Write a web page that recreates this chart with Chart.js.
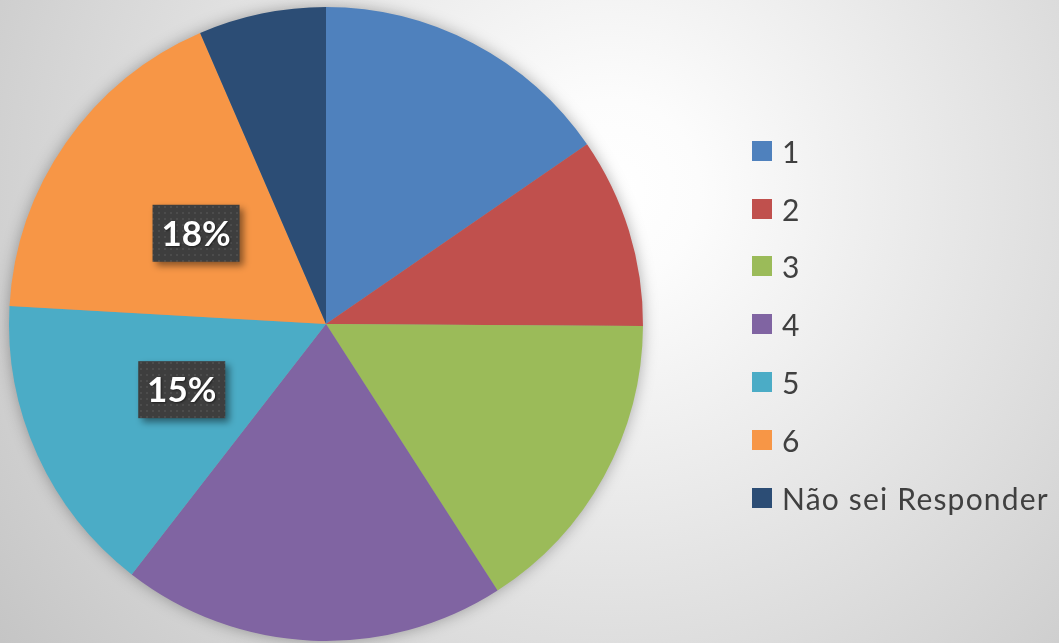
<!DOCTYPE html>
<html>
<head>
<meta charset="utf-8">
<script src="https://cdn.jsdelivr.net/npm/chart.js@4/dist/chart.umd.min.js"></script>
<style>
  html, body { margin: 0; padding: 0; }
  body {
    width: 1059px; height: 643px; overflow: hidden; position: relative;
    background: radial-gradient(circle at 610px 190px, #ffffff 0px, #fcfcfc 90px, #c4c4c4 770px);
  }
  #pie { position: absolute; left: 0; top: 0; }
  #legend { position: absolute; left: 752px; top: 122px; font-family: Lato, "Open Sans", sans-serif; color: #404040; }
  .item { display: flex; align-items: center; height: 57.8px; font-size: 30px; letter-spacing: 1.2px; white-space: nowrap; }
  .sw { width: 20px; height: 20px; margin-right: 10px; flex: none; }
</style>
</head>
<body>
<canvas id="pie" width="1059" height="643"></canvas>
<div id="legend"></div>
<script>
// categories and values (share of answers, %)
const labels = ['1', '2', '3', '4', '5', '6', 'Não sei Responder'];
const values = [15.4, 9.7, 15.8, 19.6, 15.4, 17.6, 6.5];
const colors = ['#4F81BD', '#C0504D', '#9BBB59', '#8064A2', '#4BACC6', '#F79646', '#2C4D75'];
// slices that carry a percent label
const labelled = [4, 5];

const total = values.reduce((a, b) => a + b, 0);

// legend
const legend = document.getElementById('legend');
labels.forEach((l, i) => {
  const row = document.createElement('div');
  row.className = 'item';
  row.innerHTML = `<span class="sw" style="background:${colors[i]}"></span><span>${l}</span>`;
  legend.appendChild(row);
});

// dotted dark fill for label boxes
function dotPattern(ctx) {
  const c = document.createElement('canvas');
  c.width = 6; c.height = 6;
  const p = c.getContext('2d');
  p.fillStyle = '#3e3e3e'; p.fillRect(0, 0, 6, 6);
  p.fillStyle = '#4c4c4c'; p.fillRect(2, 2, 2, 2);
  return ctx.createPattern(c, 'repeat');
}

const pieShadow = {
  id: 'pieShadow',
  beforeDatasetsDraw(chart) {
    const arc = chart.getDatasetMeta(0).data[0];
    if (!arc) return;
    const ctx = chart.ctx;
    ctx.save();
    ctx.shadowColor = 'rgba(0,0,0,0.35)';
    ctx.shadowBlur = 16;
    ctx.fillStyle = '#999';
    ctx.beginPath();
    ctx.arc(arc.x, arc.y, arc.outerRadius - 1, 0, Math.PI * 2);
    ctx.fill();
    ctx.restore();
  }
};

const pctLabels = {
  id: 'pctLabels',
  afterDatasetsDraw(chart) {
    const ctx = chart.ctx;
    const meta = chart.getDatasetMeta(0);
    const pat = dotPattern(ctx);
    labelled.forEach(i => {
      const pt = meta.data[i].getCenterPoint();
      const w = 87, h = 57;
      const x = pt.x - w / 2, y = pt.y - h / 2;
      ctx.save();
      ctx.shadowColor = 'rgba(0,0,0,0.45)';
      ctx.shadowBlur = 7;
      ctx.shadowOffsetX = 4;
      ctx.shadowOffsetY = 4;
      ctx.fillStyle = pat;
      ctx.fillRect(x, y, w, h);
      ctx.restore();
      ctx.save();
      ctx.font = 'bold 35px Lato, "Open Sans", sans-serif';
      ctx.textAlign = 'center';
      ctx.textBaseline = 'middle';
      ctx.shadowColor = 'rgba(0,0,0,0.5)';
      ctx.shadowBlur = 2;
      ctx.shadowOffsetX = 1;
      ctx.shadowOffsetY = 1;
      ctx.fillStyle = '#ffffff';
      ctx.fillText(Math.round(values[i] / total * 100) + '%', pt.x, pt.y + 1);
      ctx.restore();
    });
  }
};

new Chart(document.getElementById('pie'), {
  type: 'pie',
  data: {
    labels: labels,
    datasets: [{
      data: values,
      backgroundColor: colors,
      borderWidth: 0
    }]
  },
  options: {
    responsive: false,
    animation: false,
    layout: { padding: { left: 9, top: 7, right: 416, bottom: 2 } },
    plugins: {
      legend: { display: false },
      tooltip: { enabled: false }
    }
  },
  plugins: [pieShadow, pctLabels]
});
</script>
</body>
</html>
